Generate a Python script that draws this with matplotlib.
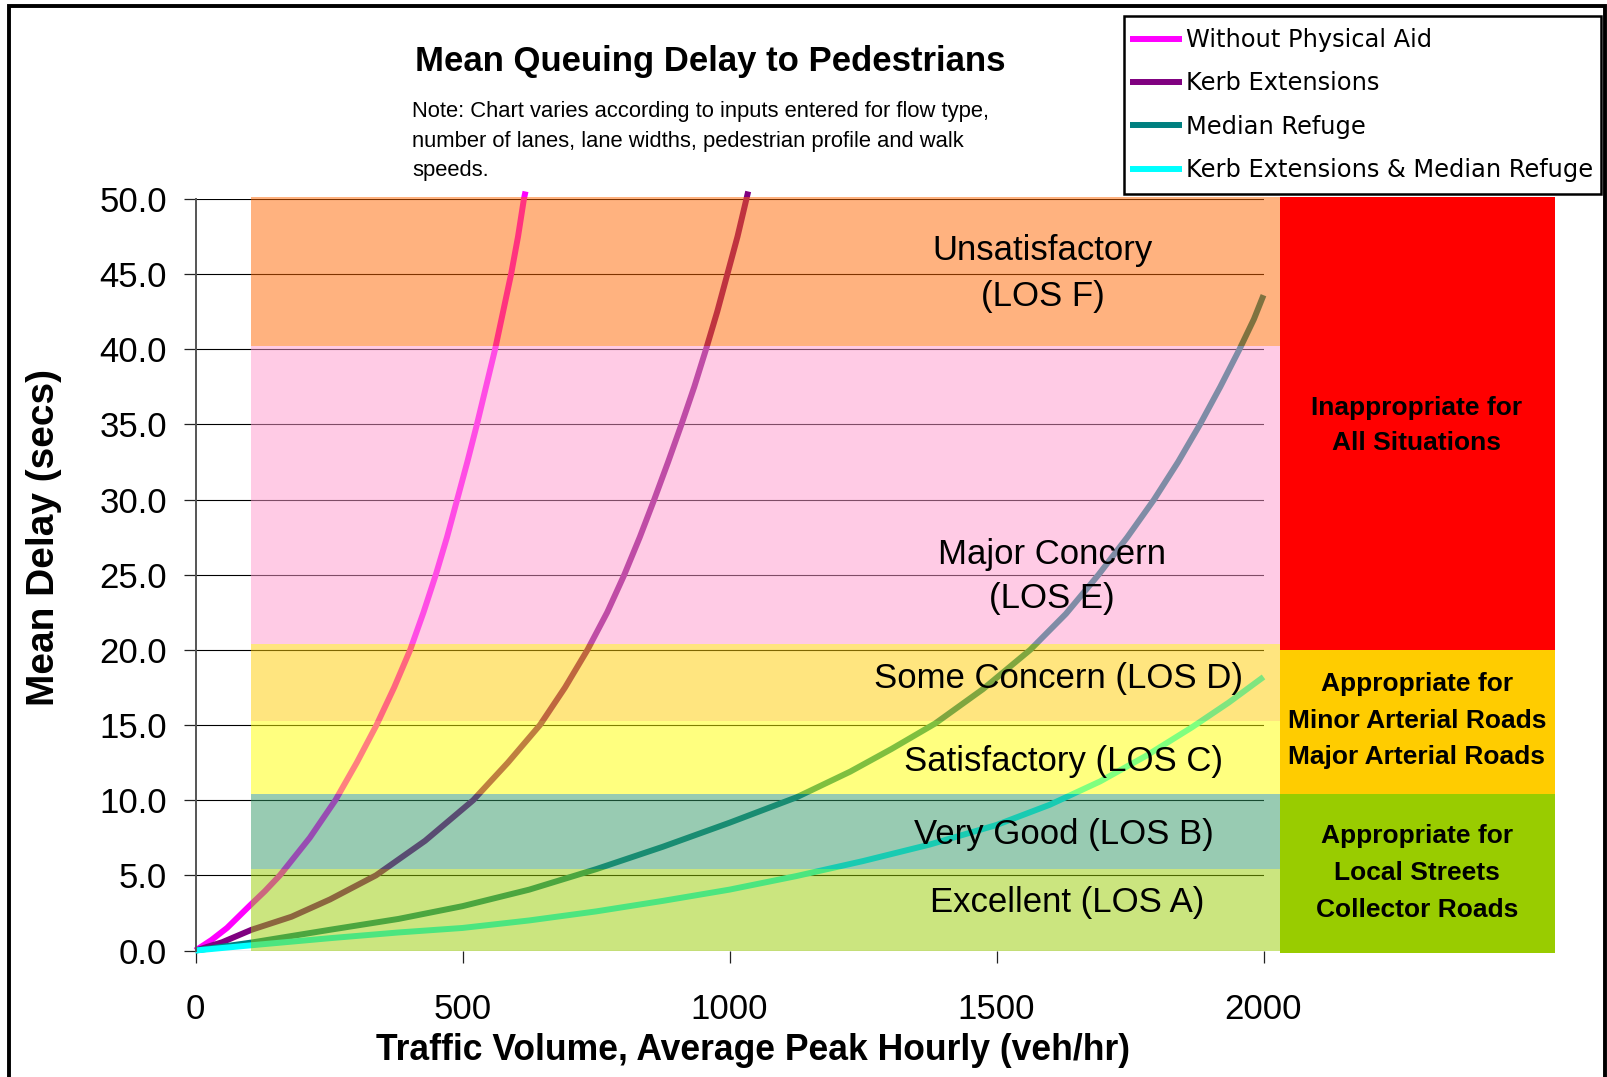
import matplotlib
matplotlib.use("Agg")
import matplotlib.pyplot as plt
from matplotlib.patches import Rectangle

W, H, DPI = 1607, 1077, 100

# ---------------- data ----------------
series_names = ["Without Physical Aid", "Kerb Extensions", "Median Refuge",
                "Kerb Extensions & Median Refuge"]
series_colors = ["#FF00FF", "#800080", "#008080", "#00FFFF"]

no_aid_x = [0, 30, 59, 102, 130, 158, 214, 262, 302, 339, 372, 402, 427, 450,
            471, 490, 509, 527, 544, 561, 576, 591, 604, 615, 618]
no_aid_y = [0, 0.7, 1.5, 3.0, 3.95, 5, 7.5, 10, 12.5, 15, 17.5, 20, 22.5, 25,
            27.5, 30, 32.5, 35, 37.5, 40, 42.5, 45, 47.5, 50, 50.5]

kerb_x = [0, 50, 105, 180, 252, 338, 430, 520, 585, 645, 692, 734, 771, 803,
          832, 859, 885, 910, 934, 956, 977, 996, 1015, 1035]
kerb_y = [0, 0.55, 1.38, 2.25, 3.4, 5, 7.3, 10, 12.5, 15, 17.5, 20, 22.5, 25,
          27.5, 30, 32.5, 35, 37.5, 40, 42.5, 45, 47.5, 50.5]

median_x = [0, 105, 252, 380, 500, 625, 751, 875, 1000, 1126, 1226, 1303, 1385,
            1475, 1563, 1630, 1691, 1745, 1795, 1840, 1881, 1919, 1955, 1982, 2000]
median_y = [0, 0.53, 1.38, 2.1, 2.95, 4.05, 5.42, 6.9, 8.5, 10.2, 11.9, 13.4, 15.1,
            17.4, 20, 22.4, 25, 27.5, 30, 32.5, 35, 37.5, 40, 42, 43.6]

both_x = [0, 105, 252, 380, 500, 625, 750, 875, 1000, 1125, 1250, 1375, 1500,
          1600, 1694, 1780, 1866, 1935, 2000]
both_y = [0, 0.35, 0.82, 1.2, 1.5, 2.0, 2.6, 3.3, 4.05, 4.95, 5.95, 7.05, 8.35,
          9.7, 11.25, 12.95, 14.85, 16.5, 18.2]

band_bottom = [0, 5.4, 10.4, 15.3, 20.4, 40.2]
band_top = [5.4, 10.4, 15.3, 20.4, 40.2, 50.1]
band_colors = ["#99CC00", "#339966", "#FFFF00", "#FFCC00", "#FF99CC", "#FF6600"]
band_x = [103, 2030]
band_labels = ["Excellent (LOS A)", "Very Good (LOS B)", "Satisfactory (LOS C)",
               "Some Concern (LOS D)", "Major Concern\n(LOS E)", "Unsatisfactory\n(LOS F)"]

zone_bottom = [-0.15, 10.4, 20.0]
zone_top = [10.4, 20.0, 50.1]
zone_colors = ["#99CC00", "#FFCC00", "#FF0000"]
zone_x = [2030, 2546]
zone_labels = ["Appropriate for\nLocal Streets\nCollector Roads",
               "Appropriate for\nMinor Arterial Roads\nMajor Arterial Roads",
               "Inappropriate for\nAll Situations"]

x_ticks = [0, 500, 1000, 1500, 2000]
y_ticks = [0, 5, 10, 15, 20, 25, 30, 35, 40, 45, 50]

# ---------------- layout ----------------
band_label_x = [1633, 1627, 1625, 1617, 1604, 1587]
band_label_y = [3.2, 7.75, 12.55, 18.1, 24.88, 45.03]
band_label_ls = [1.3, 1.3, 1.3, 1.3, 1.42, 1.52]
zone_label_x = 2287
zone_label_y = [5.15, 15.3, 34.92]
zone_label_ls = [1.67, 1.67, 1.6]

FONT = "Liberation Sans"
plt.rcParams["font.family"] = [FONT, "DejaVu Sans"]

fig = plt.figure(figsize=(W / DPI, H / DPI), dpi=DPI, facecolor="white")
ax = fig.add_axes([195.5 / W, 126.5 / H, 1068 / W, 751.5 / H])
ax.set_xlim(0, 2000)
ax.set_ylim(0, 50)
ax.patch.set_visible(False)

for s in ["top", "right", "bottom"]:
    ax.spines[s].set_visible(False)
ax.spines["left"].set_color("#555555")
ax.spines["left"].set_linewidth(1.4)

ax.set_xticks(x_ticks)
ax.set_yticks(y_ticks)
ax.set_xticklabels([f"{v}" for v in x_ticks])
ax.set_yticklabels([f"{v:.1f}" for v in y_ticks])
ax.tick_params(axis="both", direction="out", length=8.6, width=0.9, color="#222222",
               labelsize=25)
ax.tick_params(axis="y", pad=12)
ax.tick_params(axis="x", pad=22)
for t in ax.get_xticklabels() + ax.get_yticklabels():
    t.set_family(FONT)

ax.yaxis.grid(True, color="#000000", linewidth=0.8, zorder=0.5)
ax.set_axisbelow(True)

# curves (drawn under the translucent bands)
lines = []
for xs, ys, c in [(no_aid_x, no_aid_y, series_colors[0]),
                  (kerb_x, kerb_y, series_colors[1]),
                  (median_x, median_y, series_colors[2]),
                  (both_x, both_y, series_colors[3])]:
    ln, = ax.plot(xs, ys, color=c, linewidth=4.3, solid_capstyle="butt",
                  solid_joinstyle="round", zorder=1, clip_on=False)
    lines.append(ln)

# LOS bands
for b, t, c in zip(band_bottom, band_top, band_colors):
    ax.add_patch(Rectangle((band_x[0], b), band_x[1] - band_x[0], t - b,
                           facecolor=c, alpha=0.5, edgecolor="none",
                           zorder=2, clip_on=False))

# suitability zones
for b, t, c in zip(zone_bottom, zone_top, zone_colors):
    ax.add_patch(Rectangle((zone_x[0], b), zone_x[1] - zone_x[0], t - b,
                           facecolor=c, edgecolor="none", zorder=2, clip_on=False))

for lab, lx, ly, ls in zip(band_labels, band_label_x, band_label_y, band_label_ls):
    ax.text(lx, ly, lab, ha="center", va="center", fontsize=25, family=FONT,
            linespacing=ls, zorder=4, clip_on=False)

for lab, ly, ls in zip(zone_labels, zone_label_y, zone_label_ls):
    ax.text(zone_label_x, ly, lab, ha="center", va="center", fontsize=19,
            fontweight="bold", family=FONT, linespacing=ls, zorder=4, clip_on=False)

# titles / labels
fig.text(710.5 / W, 1 - 62 / H, "Mean Queuing Delay to Pedestrians", ha="center",
         va="center", fontsize=25, fontweight="bold", family=FONT)
fig.text(412 / W, 1 - 141 / H,
         "Note: Chart varies according to inputs entered for flow type,\n"
         "number of lanes, lane widths, pedestrian profile and walk\nspeeds.",
         ha="left", va="center", fontsize=15.8, family=FONT, linespacing=1.56)
fig.text(44 / W, 1 - 537 / H, "Mean Delay (secs)", rotation=90, ha="center",
         va="center", fontsize=28, fontweight="bold", family=FONT)
fig.text(753 / W, 1 - 1051 / H, "Traffic Volume, Average Peak Hourly (veh/hr)",
         ha="center", va="center", fontsize=25.6, fontweight="bold", family=FONT)

# legend (entries placed by matplotlib, frame drawn to the reference box)
LFS = 17.4
leg = fig.legend(lines, series_names, loc="upper left",
                 bbox_to_anchor=(1130 / W, 1 - 28 / H), bbox_transform=fig.transFigure,
                 borderaxespad=0, prop={"family": "DejaVu Sans", "size": LFS},
                 frameon=False, handlelength=2.15, handletextpad=0.17,
                 labelspacing=0.80, borderpad=0)
for l in leg.get_lines():
    l.set_linewidth(4.3)
fig.patches.append(Rectangle((1124 / W, 1 - 194 / H), (1601 - 1124) / W, 178 / H,
                             transform=fig.transFigure, fill=False,
                             edgecolor="black", linewidth=1.8))

# outer border
fig.patches.append(Rectangle((8.5 / W, -0.05), (1604.5 - 8.5) / W, 1.05 - 6.5 / H,
                             transform=fig.transFigure, fill=False,
                             edgecolor="black", linewidth=2.8))

fig.savefig("out.png", dpi=DPI, facecolor="white")
